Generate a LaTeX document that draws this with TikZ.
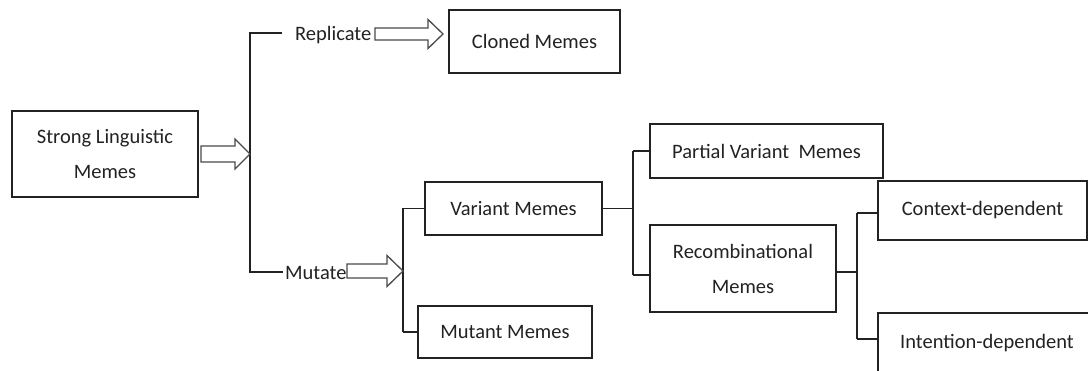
\documentclass[tikz,border=0pt]{standalone}
\usepackage{fontspec}
\setmainfont{Carlito}
\definecolor{ink}{HTML}{222222}
\definecolor{arrowink}{HTML}{4A4A4A}
% hollow block arrow: body start, head start, tip, centre y, body half-height, head half-height
\newcommand{\blockarrow}[6]{%
  \draw[hollow] (#1,#4-#5) -- (#2,#4-#5) -- (#2,#4-#6) -- (#3,#4)
    -- (#2,#4+#6) -- (#2,#4+#5) -- (#1,#4+#5) -- cycle;}
\begin{document}
\begin{tikzpicture}[x=1pt,y=-1pt,
  memefont/.style={font=\fontsize{20.5}{35}\selectfont},
  box/.style={draw=ink,line width=1.6pt,inner sep=0pt,align=center,
    text=ink,memefont},
  label/.style={inner sep=0pt,text=ink,memefont},
  link/.style={draw=ink,line width=1.6pt},
  hollow/.style={draw=arrowink,line width=1.3pt,fill=white,line join=miter}]
\useasboundingbox (0,0) rectangle (1088,371);
\clip (0,0) rectangle (1088,371);

% boxes
\node[box,minimum width=186pt,minimum height=86pt] (slm) at (105,154)
  {Strong Linguistic\\Memes};
\node[box,minimum width=171pt,minimum height=63pt] (cloned) at (534.5,41.5)
  {Cloned Memes};
\node[box,minimum width=177pt,minimum height=53pt] (variant) at (513.5,208.5)
  {Variant Memes};
\node[box,minimum width=174pt,minimum height=52pt] (mutant) at (505,332)
  {Mutant Memes};
\node[box,minimum width=233pt,minimum height=54pt] (partial) at (766.5,151)
  {Partial Variant~~Memes};
\node[box,minimum width=186pt,minimum height=87pt] (recomb) at (743,268.5)
  {Recombinational\\Memes};
\node[box,minimum width=209pt,minimum height=59pt] (context) at (982.5,210.5)
  {Context-dependent};
\node[box,minimum width=218pt,minimum height=60pt] (intention) at (987,343)
  {Intention-dependent};

% branch labels
\node[label,anchor=base west] (rep) at (295,41) {Replicate};
\node[label,anchor=base west] (mut) at (285,280) {Mutate};

% junction points
\coordinate (trunkT) at (250,33);
\coordinate (trunkB) at (250,272);
\coordinate (repL) at (282,33);
\coordinate (mutL) at (283,272);
\coordinate (mT) at (403,208.5);
\coordinate (mB) at (403,332);
\coordinate (vj) at (633,208.5);
\coordinate (vT) at (633,151);
\coordinate (vB) at (633,275);
\coordinate (rj) at (857,272);
\coordinate (rT) at (857,213);
\coordinate (rB) at (857,339);

% first split
\draw[link] (repL) -- (trunkT) -- (trunkB) -- (mutL);
% mutation split
\draw[link] (mT) -- (mB);
\draw[link] (mT) -- (variant.west);
\draw[link] (mB) -- (mutant.west);
% variant split
\draw[link] (variant.east) -- (vj);
\draw[link] (vT) -- (vB);
\draw[link] (vT) -- (partial.west);
\draw[link] (vB) -- (vB -| recomb.west);
% recombination split
\draw[link] (rj -| recomb.east) -- (rj);
\draw[link] (rT) -- (rB);
\draw[link] (rT) -- (rT -| context.west);
\draw[link] (rB) -- (rB -| intention.west);

% hollow block arrows
\blockarrow{201}{235}{250}{154}{8}{15}
\blockarrow{375}{428}{443}{34}{6}{14.5}
\blockarrow{347}{387}{403}{271}{7}{15.5}
\end{tikzpicture}
\end{document}
